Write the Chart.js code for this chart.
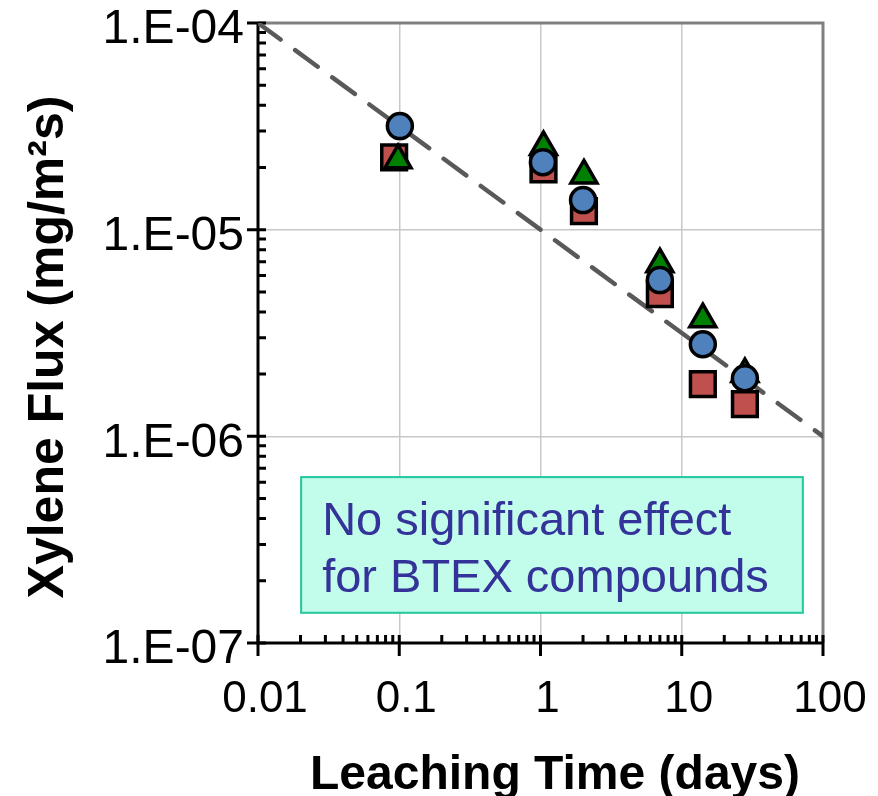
<!DOCTYPE html>
<html>
<head>
<meta charset="utf-8">
<script src="https://cdn.jsdelivr.net/npm/chart.js@4"></script>
<style>
  html, body { margin: 0; padding: 0; background: #fff; }
  #wrap { width: 878px; height: 796px; }
</style>
</head>
<body>
<div id="wrap"><canvas id="graphique-xylene" width="878" height="796"></canvas></div>
<script>
// data
const carreTemps = [0.092, 1.05, 2.03, 7.0, 14.1, 28.0];
const carreFlux = [2.24e-5, 1.96e-5, 1.23e-5, 4.87e-6, 1.79e-6, 1.43e-6];
const triangleTemps = [0.098, 1.05, 2.03, 7.0, 14.1, 28.0];
const triangleFlux = [2.17e-5, 2.51e-5, 1.83e-5, 6.81e-6, 3.69e-6, 2.0e-6];
const cercleTemps = [0.101, 1.04, 2.0, 7.0, 14.1, 28.0];
const cercleFlux = [3.17e-5, 2.12e-5, 1.39e-5, 5.70e-6, 2.79e-6, 1.91e-6];
const tendanceTemps = [0.01, 100];
const tendanceFlux = [1e-4, 1e-6];

const xTicks = [0.01, 0.1, 1, 10, 100];
const xTickLabels = ['0.01', '0.1', '1', '10', '100'];
const yTicks = [1e-7, 1e-6, 1e-5, 1e-4];
const yTickLabels = ['1.E-07', '1.E-06', '1.E-05', '1.E-04'];

const titreX = 'Leaching Time (days)';
const titreY = 'Xylene Flux (mg/m²s)';
const noteLignes = ['No significant effect', 'for BTEX compounds'];

const POLICE = "'Liberation Sans', Arial, sans-serif";

function points(xs, ys) {
    return xs.map((x, i) => ({ x: x, y: ys[i] }));
}

// minor ticks between decades (2..9)
function mineurs(ticks) {
    const res = [];
    for (let i = 0; i < ticks.length - 1; i++) {
        for (let k = 2; k <= 9; k++) res.push(ticks[i] * k);
    }
    return res;
}

// box, axes and tick marks drawn under the markers
const axesPlugin = {
    id: 'axesExcel',
    beforeDatasetsDraw(chart) {
        const ctx = chart.ctx;
        const area = chart.chartArea;
        const sx = chart.scales.x;
        const sy = chart.scales.y;

        // annotation box
        const bx = sx.getPixelForValue(0.0202);
        const bx2 = sx.getPixelForValue(72);
        const by = sy.getPixelForValue(6.35e-7);
        const by2 = sy.getPixelForValue(1.40e-7);
        ctx.save();
        ctx.fillStyle = '#c2fdec';
        ctx.strokeStyle = '#22c79c';
        ctx.lineWidth = 2;
        ctx.fillRect(bx, by, bx2 - bx, by2 - by);
        ctx.strokeRect(bx, by, bx2 - bx, by2 - by);
        ctx.fillStyle = '#333399';
        ctx.font = '47px ' + POLICE;
        ctx.textBaseline = 'alphabetic';
        ctx.textAlign = 'left';
        ctx.fillText(noteLignes[0], bx + 21, by + 58);
        ctx.fillText(noteLignes[1], bx + 21, by + 115);
        ctx.restore();

        ctx.save();
        // gray frame top / right
        ctx.strokeStyle = '#808080';
        ctx.lineWidth = 3;
        ctx.beginPath();
        ctx.moveTo(area.left, area.top);
        ctx.lineTo(area.right, area.top);
        ctx.lineTo(area.right, area.bottom);
        ctx.stroke();

        // black axes
        ctx.strokeStyle = '#000';
        ctx.lineWidth = 3;
        ctx.beginPath();
        ctx.moveTo(area.left, area.top);
        ctx.lineTo(area.left, area.bottom);
        ctx.lineTo(area.right, area.bottom);
        ctx.stroke();

        ctx.beginPath();
        xTicks.forEach(v => {
            const px = sx.getPixelForValue(v);
            ctx.moveTo(px, area.bottom - 8);
            ctx.lineTo(px, area.bottom + 13);
        });
        mineurs(xTicks).forEach(v => {
            const px = sx.getPixelForValue(v);
            ctx.moveTo(px, area.bottom - 8);
            ctx.lineTo(px, area.bottom);
        });
        yTicks.forEach(v => {
            const py = sy.getPixelForValue(v);
            ctx.moveTo(area.left - 11, py);
            ctx.lineTo(area.left + 8, py);
        });
        mineurs(yTicks).forEach(v => {
            const py = sy.getPixelForValue(v);
            ctx.moveTo(area.left, py);
            ctx.lineTo(area.left + 8, py);
        });
        ctx.stroke();
        ctx.restore();
    },
    afterDraw(chart) {
        // axis titles, placed as in the original
        const ctx = chart.ctx;
        ctx.save();
        ctx.fillStyle = '#000';
        ctx.font = 'bold 48px ' + POLICE;
        ctx.textAlign = 'center';
        ctx.textBaseline = 'alphabetic';
        ctx.fillText(titreX, 555, 789);

        ctx.translate(63, 347);
        ctx.rotate(-Math.PI / 2);
        ctx.font = 'bold 50px ' + POLICE;
        ctx.fillText(titreY, 0, 0);
        ctx.restore();
    }
};

const ctx = document.getElementById('graphique-xylene').getContext('2d');
const myChart = new Chart(ctx, {
    type: 'scatter',
    data: {
        datasets: [
            {
                label: 'cercles',
                data: points(cercleTemps, cercleFlux),
                pointStyle: 'circle',
                pointRadius: 12.5,
                pointBackgroundColor: '#4f81bd',
                pointBorderColor: '#000',
                pointBorderWidth: 3.5
            },
            {
                label: 'triangles',
                data: points(triangleTemps, triangleFlux),
                pointStyle: 'triangle',
                pointRadius: 15,
                pointBackgroundColor: '#008000',
                pointBorderColor: '#000',
                pointBorderWidth: 3.5
            },
            {
                label: 'carres',
                data: points(carreTemps, carreFlux),
                pointStyle: 'rect',
                pointRadius: 17.5,
                pointBackgroundColor: '#c0504d',
                pointBorderColor: '#000',
                pointBorderWidth: 3.5
            },
            {
                label: 'tendance',
                data: points(tendanceTemps, tendanceFlux),
                showLine: true,
                pointRadius: 0,
                borderColor: '#595959',
                borderWidth: 4.5,
                borderDash: [28, 18],
                borderCapStyle: 'round'
            }
        ]
    },
    options: {
        responsive: false,
        animation: false,
        devicePixelRatio: 1,
        layout: { padding: 0 },
        plugins: {
            legend: { display: false },
            tooltip: { enabled: false }
        },
        scales: {
            x: {
                type: 'logarithmic',
                min: 0.01,
                max: 100,
                afterFit: function (scale) {
                    scale.height = 153;
                    scale.paddingLeft = 0;
                    scale.paddingRight = 55;
                },
                afterBuildTicks: function (scale) {
                    scale.ticks = xTicks.map(v => ({ value: v }));
                },
                grid: { color: '#c8c8c8', lineWidth: 1.5, drawTicks: false },
                border: { display: false },
                ticks: {
                    autoSkip: false,
                    maxRotation: 0,
                    padding: 30,
                    labelOffset: 7,
                    color: '#000',
                    font: { family: POLICE, size: 44 },
                    callback: function (value, index) { return xTickLabels[index]; }
                }
            },
            y: {
                type: 'logarithmic',
                min: 1e-7,
                max: 1e-4,
                afterFit: function (scale) {
                    scale.width = 258;
                    scale.paddingTop = 23;
                    scale.paddingBottom = 0;
                },
                afterBuildTicks: function (scale) {
                    scale.ticks = yTicks.map(v => ({ value: v }));
                },
                grid: { color: '#c8c8c8', lineWidth: 1.5, drawTicks: false },
                border: { display: false },
                ticks: {
                    autoSkip: false,
                    padding: 14,
                    labelOffset: 7,
                    color: '#000',
                    font: { family: POLICE, size: 48 },
                    callback: function (value, index) { return yTickLabels[index]; }
                }
            }
        }
    },
    plugins: [axesPlugin]
});
</script>
</body>
</html>
